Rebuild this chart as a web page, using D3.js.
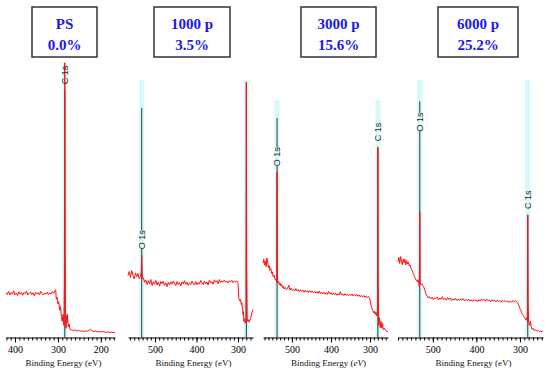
<!DOCTYPE html>
<html>
<head>
<meta charset="utf-8">
<script src="https://cdn.jsdelivr.net/npm/d3@7"></script>
<style>
  body { margin: 0; background: #fff; }
  svg { display: block; }
  .serif { font-family: "Liberation Serif", "Times New Roman", Times, serif; }
  .sans { font-family: "Liberation Sans", Arial, Helvetica, sans-serif; }
</style>
</head>
<body>
<div id="chart"></div>
<script>
// titles of the four survey spectra
var titles = [
    ['PS', '0.0%'],
    ['1000 p', '3.5%'],
    ['3000 p', '15.6%'],
    ['6000 p', '25.2%']
];

// binding energy window of each panel (eV, high -> low)
var energyDomains = [[421, 167], [565, 264], [574, 254], [580, 247]];
var majorTicks = [[400, 300, 200], [500, 400, 300], [500, 400, 300], [500, 400, 300]];

// survey spectra, [binding energy eV, intensity a.u.]
var spectrumPS = [
    [421,15.8],[418,15.2],[415,16.3],[412,15.0],[409,15.9],[406,15.4],[403,16.5],[400,15.1],
    [397,15.7],[394,14.8],[391,16.2],[388,15.3],[385,15.9],[382,14.9],[379,16.0],[376,15.5],
    [373,16.4],[370,15.0],[367,15.6],[364,16.1],[361,15.2],[358,15.8],[355,14.7],[352,16.0],
    [349,15.4],[346,15.9],[343,15.1],[340,16.3],[337,15.5],[334,15.0],[331,15.8],[328,15.3],
    [325,16.0],[322,15.2],[319,15.7],[316,15.4],[313,16.2],[310,15.6],[307,16.6],[305,16.9],
    [304,13.5],[302,14.2],[300,11.8],[298,12.6],[296,9.5],[294,10.8],[292,7.2],[290,5.5],
    [288,8.0],[286,4.0],[285,20],[284,99],[283,30],[282,4.5],[281,3.0],[280,7.5],[279,5.0],
    [278,8.0],[276,3.5],[274,4.5],[272,2.6],[268,2.3],[264,2.1],[260,2.4],[256,2.0],[252,2.2],
    [248,1.9],[244,2.1],[240,1.8],[236,2.0],[232,1.9],[228,2.2],[224,2.6],[220,2.0],[216,1.8],
    [212,2.0],[208,1.7],[204,1.9],[200,1.6],[196,1.8],[192,1.7],[188,1.5],[184,1.7],[180,1.4],
    [176,1.6],[172,1.4],[167,1.5]
];
var spectrum1000 = [
    [565,22.0],[562,23.5],[559,21.4],[556,23.8],[553,22.2],[550,20.8],[547,23.0],[544,21.6],
    [541,22.8],[538,20.9],[535,21.8],[533,23.5],[532,29.5],[531,24.0],[530,20.8],[528,21.2],
    [525,19.6],[522,20.4],[519,18.8],[516,20.2],[513,19.0],[510,20.6],[507,18.4],[504,19.8],
    [501,18.9],[498,20.3],[495,18.6],[492,19.7],[489,18.2],[486,19.9],[483,19.1],[480,20.0],
    [477,18.5],[474,19.4],[471,18.0],[468,19.6],[465,18.7],[462,19.8],[459,18.9],[456,20.1],
    [453,19.3],[450,18.4],[447,19.9],[444,18.8],[441,19.5],[438,18.3],[435,19.7],[432,19.0],
    [429,20.2],[426,18.9],[423,19.6],[420,18.5],[417,19.4],[414,18.8],[411,20.0],[408,19.2],
    [405,18.6],[402,19.9],[399,18.7],[396,19.5],[393,18.9],[390,20.3],[387,19.4],[384,18.8],
    [381,20.1],[378,19.0],[375,19.7],[372,18.6],[369,20.4],[366,19.3],[363,19.9],[360,18.9],
    [357,20.5],[354,19.6],[351,20.2],[348,19.1],[345,20.6],[342,19.5],[339,20.1],[336,19.8],
    [333,20.4],[330,19.6],[327,20.0],[324,19.3],[321,20.2],[318,19.7],[315,20.3],[312,19.5],
    [309,20.0],[306,19.8],[303,20.1],[300,19.2],[298,13.6],[296,12.8],[294,13.4],[292,11.5],
    [291,12.3],[289,9.5],[288,7.8],[287,9.0],[286,5.5],[284,6.5],[283,4.8],[281,6.0],
    [280,92],[279,25],[278,5.5],[276,6.2],[273,5.2],[270,6.5],[267,8.5],[264,9.8]
];
var spectrum3000 = [
    [574,26.5],[572,28.0],[570,25.8],[568,27.3],[566,25.2],[564,28.4],[562,26.9],[560,24.8],
    [558,25.6],[556,23.9],[554,24.6],[552,22.8],[550,23.4],[548,21.7],[546,22.3],[544,21.0],
    [542,20.4],[540,20.9],[539,19.6],[538,59.6],[537,20.5],[536,19.4],[534,19.9],[532,18.7],
    [530,19.3],[528,18.2],[526,18.8],[524,17.6],[522,18.1],[520,17.2],[517,17.8],[514,16.9],
    [511,17.4],[508,18.6],[505,16.8],[502,17.5],[499,16.6],[496,17.1],[493,16.4],[490,17.3],
    [487,16.5],[484,17.0],[481,16.2],[478,16.9],[475,16.3],[472,16.8],[469,16.0],[466,16.7],
    [463,16.1],[460,16.6],[457,15.9],[454,16.5],[451,16.0],[448,16.4],[445,15.8],[442,16.3],
    [439,15.7],[436,16.2],[433,15.6],[430,16.4],[427,15.5],[424,16.1],[421,15.4],[418,16.0],
    [415,15.3],[412,15.9],[409,15.2],[406,16.3],[403,15.4],[400,15.8],[397,15.1],[394,15.7],
    [391,15.0],[388,15.6],[385,14.9],[382,15.5],[379,15.0],[376,16.2],[373,15.1],[370,15.4],
    [367,14.8],[364,15.5],[361,14.9],[358,15.3],[355,14.7],[352,15.2],[349,14.8],[346,15.4],
    [343,14.6],[340,15.1],[337,14.7],[334,15.2],[331,14.5],[328,15.0],[325,14.4],[322,14.9],
    [319,14.3],[316,14.8],[313,14.2],[310,14.6],[307,14.1],[304,14.5],[301,13.8],[299,12.5],
    [297,11.0],[295,10.2],[293,9.4],[291,8.6],[289,9.2],[287,8.0],[285,8.8],[283,7.5],
    [281,9.0],[280,68.6],[279,20],[278,4.0],[276,6.8],[274,3.2],[272,5.5],[270,3.0],
    [268,4.8],[266,2.5],[263,3.0],[260,2.2],[257,1.8],[254,1.9]
];
var spectrum6000 = [
    [580,27.0],[578,28.6],[576,26.4],[574,28.9],[572,27.2],[570,26.0],[568,28.1],[566,26.7],
    [564,27.9],[562,25.9],[560,27.4],[558,26.2],[556,27.0],[554,25.5],[552,25.9],[550,24.6],
    [548,24.0],[546,23.1],[544,22.4],[542,21.6],[540,21.0],[538,20.3],[536,19.8],[534,20.5],
    [532,19.2],[531,18.0],[530,44.8],[529,19.0],[527,18.7],[525,19.1],[523,18.4],[521,18.0],
    [519,17.0],[517,16.0],[515,15.0],[513,14.6],[511,14.0],[508,14.4],[505,13.6],[502,14.2],
    [499,13.4],[496,14.0],[493,13.7],[490,14.3],[487,13.2],[484,13.9],[481,13.5],[478,14.4],
    [475,13.3],[472,13.8],[469,13.1],[466,14.1],[463,13.4],[460,13.9],[457,13.0],[454,13.6],
    [451,13.2],[448,13.8],[445,13.0],[442,13.5],[439,12.9],[436,13.6],[433,13.1],[430,13.7],
    [427,12.9],[424,13.4],[421,13.0],[418,13.5],[415,12.8],[412,13.3],[409,12.7],[406,13.4],
    [403,12.9],[400,13.2],[397,12.6],[394,13.3],[391,12.8],[388,13.6],[385,13.0],[382,13.4],
    [379,12.7],[376,13.5],[373,12.9],[370,13.2],[367,12.6],[364,13.3],[361,12.8],[358,13.1],
    [355,12.5],[352,13.2],[349,12.7],[346,13.0],[343,12.4],[340,13.1],[337,12.6],[334,13.0],
    [331,12.5],[328,12.9],[325,12.3],[322,12.8],[319,12.4],[316,13.0],[313,12.5],[310,12.9],
    [307,12.6],[305,12.2],[302,11.0],[300,10.1],[298,9.4],[296,8.6],[294,8.0],[292,7.5],
    [290,7.0],[288,6.6],[286,6.0],[284,6.8],[283,5.5],[282,44],[281,12],[280,5.0],[278,4.0],
    [276,5.6],[274,3.5],[272,2.6],[270,3.0],[267,2.1],[264,2.4],[261,1.9],[258,2.2],[255,1.8],
    [252,2.0],[249,1.7],[247,1.9]
];
var spectra = [spectrumPS, spectrum1000, spectrum3000, spectrum6000];

// peak markers: energy, top of shaded band, top of marker line, label centre (intensity units)
var peaksPS = [{ name: 'C 1s', eV: 284, band: 99, line: 89, label: 94.6 }];
var peaks1000 = [
    { name: 'O 1s', eV: 532, band: 92.8, line: 82.7, label: 35 },
    { name: 'C 1s', eV: 280, band: 92.8, line: 92, label: null }
];
var peaks3000 = [
    { name: 'O 1s', eV: 538, band: 85.6, line: 79, label: 65 },
    { name: 'C 1s', eV: 280, band: 85.6, line: 68, label: 74 }
];
var peaks6000 = [
    { name: 'O 1s', eV: 530, band: 92.8, line: 85, label: 77.6 },
    { name: 'C 1s', eV: 282, band: 92.8, line: 44, label: 49.5 }
];
var peaks = [peaksPS, peaks1000, peaks3000, peaks6000];

var w = 550,
    h = 375,
    axisY = 337.5,
    // layout of the four panels (pixels)
    axisRanges = [[6, 115], [128, 253], [263, 388], [398, 543]],
    boxes = [[32, 65], [154, 76], [301, 75], [438, 80]],
    labelHalf = 9;

var svg = d3.select('#chart')
    .append('svg')
    .attr('width', w)
    .attr('height', h);

var y = d3.scaleLinear().domain([0, 100]).range([336.5, 60]);

titles.forEach(function(title, i){
    var x = d3.scaleLinear().domain(energyDomains[i]).range(axisRanges[i]);
    var g = svg.append('g');

    // shaded peak bands
    g.selectAll('rect.band')
        .data(peaks[i])
        .enter()
        .append('rect')
        .attr('class', 'band')
        .attr('x', function(d){ return x(d.eV) - 2.5; })
        .attr('width', 5)
        .attr('y', function(d){ return y(d.band); })
        .attr('height', function(d){ return axisY - y(d.band); })
        .attr('fill', '#d6fafa');

    // marker lines, broken where the label sits
    peaks[i].forEach(function(d){
        var segs = [[y(d.line), axisY]];
        if( d.label !== null ){
            var ly = y(d.label);
            if( ly - labelHalf > y(d.line) ){
                segs = [[y(d.line), ly - labelHalf], [ly + labelHalf, axisY]];
            } else {
                segs = [[Math.max(y(d.line), ly + labelHalf), axisY]];
            }
        }
        segs.forEach(function(s){
            g.append('line')
                .attr('x1', x(d.eV))
                .attr('x2', x(d.eV))
                .attr('y1', s[0])
                .attr('y2', s[1])
                .attr('stroke', '#2e3a3a')
                .attr('stroke-width', 1);
        });
    });

    // spectrum
    var line = d3.line()
        .x(function(d){ return x(d[0]); })
        .y(function(d){ return y(d[1]); });
    g.append('path')
        .datum(spectra[i])
        .attr('d', line)
        .attr('fill', 'none')
        .attr('stroke', '#ff1010')
        .attr('stroke-width', 1);

    // peak labels
    g.selectAll('text.peak')
        .data(peaks[i].filter(function(d){ return d.label !== null; }))
        .enter()
        .append('text')
        .attr('class', 'peak sans')
        .attr('transform', function(d){
            return 'translate(' + (x(d.eV) + 3) + ',' + y(d.label) + ') rotate(-90)';
        })
        .attr('text-anchor', 'middle')
        .style('font-size', '9px')
        .attr('fill', '#222')
        .text(function(d){ return d.name; });

    // axis with 10 eV minor ticks
    var lo = Math.ceil(energyDomains[i][1] / 10) * 10,
        hi = Math.floor(energyDomains[i][0] / 10) * 10;
    g.append('g')
        .attr('transform', 'translate(0,' + axisY + ')')
        .call(d3.axisBottom(x)
            .tickValues(d3.range(lo, hi + 1, 10))
            .tickFormat('')
            .tickSize(3)
            .tickSizeOuter(0));
    var major = g.append('g')
        .attr('transform', 'translate(0,' + axisY + ')')
        .call(d3.axisBottom(x)
            .tickValues(majorTicks[i])
            .tickSize(5)
            .tickSizeOuter(0));
    major.attr('font-family', null);
    major.select('.domain').remove();
    major.selectAll('text')
        .attr('class', 'serif')
        .style('font-size', '10px')
        .attr('fill', '#000');

    var ax = g.append('text')
        .attr('class', 'serif')
        .attr('x', (axisRanges[i][0] + axisRanges[i][1]) / 2 + 3)
        .attr('y', 366)
        .attr('text-anchor', 'middle')
        .style('font-size', '9px')
        .attr('fill', '#111');
    ax.append('tspan').text('Binding Energy (');
    ax.append('tspan').style('font-style', i === 2 ? 'italic' : 'normal').text('eV');
    ax.append('tspan').text(')');

    // title box
    var b = boxes[i];
    g.append('rect')
        .attr('x', b[0])
        .attr('y', 7)
        .attr('width', b[1])
        .attr('height', 50)
        .attr('fill', '#fff')
        .attr('stroke', '#333')
        .attr('stroke-width', 1.5);
    g.selectAll('text.title')
        .data(title)
        .enter()
        .append('text')
        .attr('class', 'title serif')
        .attr('x', b[0] + b[1] / 2)
        .attr('y', function(d, j){ return j === 0 ? 29 : 50; })
        .attr('text-anchor', 'middle')
        .style('font-weight', 'bold')
        .style('font-size', '15px')
        .attr('fill', '#1818ee')
        .text(function(d){ return d; });
});
</script>
</body>
</html>
